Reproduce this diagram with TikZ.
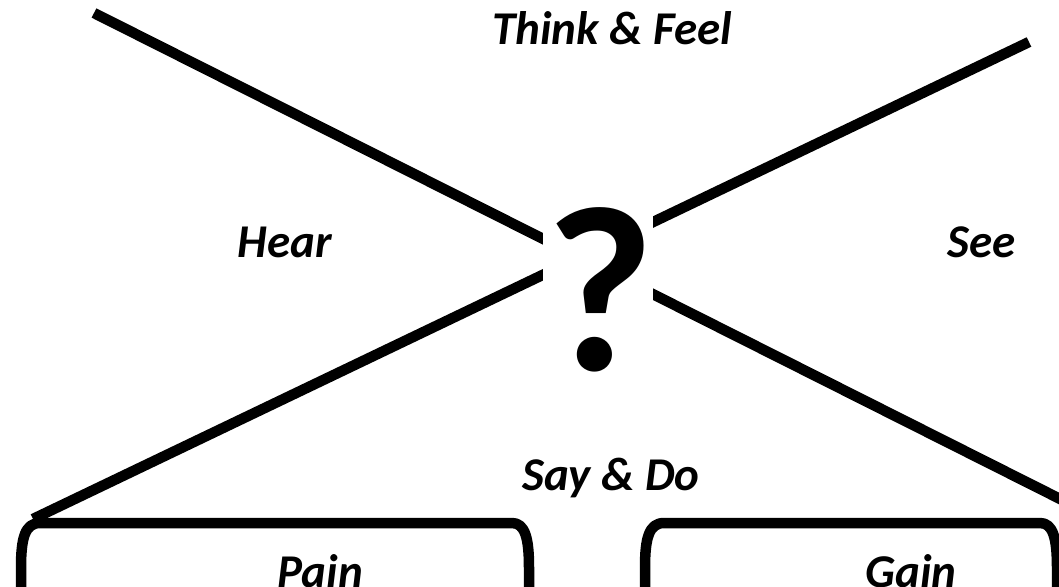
\documentclass[tikz,border=0pt]{standalone}
\usepackage{fontspec}
\setmainfont{Carlito}
\begin{document}
\begin{tikzpicture}[x=1pt,y=-1pt,
  thick line/.style={line width=10.5pt,line cap=butt,line join=round},
  label/.style={font=\fontsize{47}{50}\selectfont\bfseries\itshape,inner sep=0pt,anchor=base},
  qmark/.style={font=\fontsize{236}{240}\selectfont\bfseries,inner sep=0pt,anchor=base}]
\useasboundingbox (0,0) rectangle (1059,586);
\clip (0,0) rectangle (1059,586);
% diagonal lines
\coordinate (a1) at (94,13);
\coordinate (a2) at (1090,514);
\coordinate (b1) at (1029,42);
\coordinate (b2) at (33,519);
\draw[thick line] (a1) -- (a2);
\draw[thick line] (b1) -- (b2);
% white cover around the question mark
\fill[white] (543,195) rectangle (653,310);
\node[qmark] (q) at (600,370) {?};
% brackets
\draw[thick line] (21,590) -- (21,568) .. controls (21,538) and (25,523) .. (40,523)
  -- (512,523) .. controls (525,523) and (529,538) .. (529,568) -- (529,590);
\draw[thick line] (645,590) -- (645,568) .. controls (645,538) and (649,523) .. (664,523)
  -- (1040,523) .. controls (1053,523) and (1057,538) .. (1057,568) -- (1057,590);
% labels
\node[label] (think) at (612,45) {Think \& Feel};
\node[label] (hear) at (285,257) {Hear};
\node[label] (see) at (982,257) {See};
\node[label] (say) at (611,490) {Say \& Do};
\node[label] (pain) at (320,587) {Pain};
\node[label] (gain) at (911,587) {Gain};
\end{tikzpicture}
\end{document}
